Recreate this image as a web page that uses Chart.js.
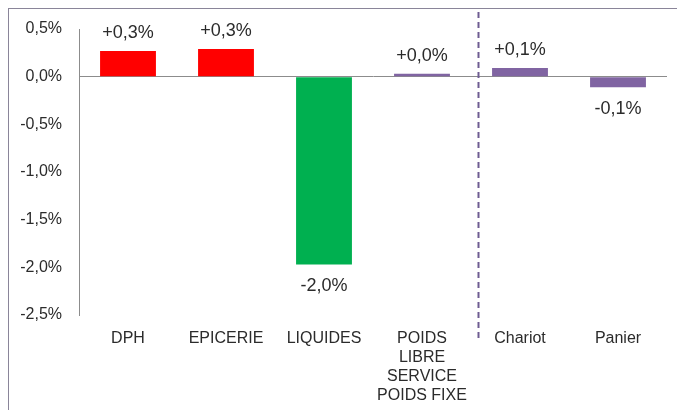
<!DOCTYPE html>
<html>
<head>
<meta charset="utf-8">
<script src="https://cdn.jsdelivr.net/npm/chart.js@4.4.1/dist/chart.umd.min.js"></script>
<style>
    body { margin: 0; background: #ffffff; overflow: hidden; }
    #frame { position: absolute; left: 8px; top: 8px; width: 700px; height: 420px; border: 1px solid #8a8599; }
    #wrap { position: absolute; left: 0; top: 0; width: 677px; height: 410px; }
</style>
</head>
<body>
<div id="frame"></div>
<div id="wrap"><canvas id="evolution_chart" width="677" height="410"></canvas></div>
<script>
const categories = ["DPH", "EPICERIE", "LIQUIDES", ["POIDS", "LIBRE", "SERVICE", "POIDS FIXE"], "Chariot", "Panier"];
const values = [0.27, 0.29, -1.97, 0.03, 0.09, -0.11];
const bar_colors = ["#ff0000", "#ff0000", "#00b050", "#8064a2", "#8064a2", "#8064a2"];
const y_ticks = [0.5, 0, -0.5, -1, -1.5, -2, -2.5];

const text_color = "#2b2b2b";
const font_family = "'Liberation Sans', Arial, sans-serif";

function format_percent(v, with_sign)
{
    const s = Math.abs(v).toFixed(1).replace(".", ",") + "%";
    if (v < 0) return "-" + s;
    return (with_sign ? "+" : "") + s;
}

// value labels above / below each bar
const value_labels =
{
    id: "value_labels",
    afterDatasetsDraw(chart)
    {
        const ctx = chart.ctx;
        const meta = chart.getDatasetMeta(0);
        ctx.save();
        ctx.font = "18px " + font_family;
        ctx.fillStyle = text_color;
        ctx.textAlign = "center";
        ctx.textBaseline = "middle";
        meta.data.forEach((bar, i) =>
        {
            const v = values[i];
            const y = v >= 0 ? bar.y - 18 : bar.y + 22;
            ctx.fillText(format_percent(v, true), bar.x, y);
        });
        ctx.restore();
    }
};

// dashed separator between the categories and the basket totals
const separator =
{
    id: "separator",
    afterDraw(chart)
    {
        const ctx = chart.ctx;
        const x = Math.round(chart.scales.x.getPixelForValue(3.57)) + 0.5;
        ctx.save();
        ctx.strokeStyle = "#6e5c92";
        ctx.lineWidth = 2;
        ctx.setLineDash([6, 4]);
        ctx.beginPath();
        ctx.moveTo(x, 12);
        ctx.lineTo(x, chart.chartArea.bottom + 26);
        ctx.stroke();
        ctx.restore();
    }
};

const evolution_chart = new Chart("evolution_chart",
{
    type: "bar",
    data:
    {
        labels: categories,
        datasets:
        [
            {
                data: values,
                backgroundColor: bar_colors,
                barPercentage: 0.57,
                categoryPercentage: 1.0
            }
        ]
    },
    options:
    {
        responsive: false,
        animation: false,
        layout:
        {
            padding: { left: 0, right: 10, top: 29, bottom: 0 }
        },
        plugins:
        {
            legend: { display: false },
            tooltip: { enabled: false }
        },
        scales:
        {
            x:
            {
                grid: { display: false },
                border: { display: false },
                ticks:
                {
                    color: text_color,
                    font: { family: font_family, size: 16, lineHeight: 1.19 },
                    padding: 6,
                    maxRotation: 0,
                    autoSkip: false
                },
                afterFit(scale) { scale.height = 95; }
            },
            y:
            {
                min: -2.5,
                max: 0.5,
                afterBuildTicks(scale) { scale.ticks = y_ticks.map(v => ({ value: v })); },
                grid:
                {
                    drawTicks: false,
                    color: (c) => c.tick && c.tick.value === 0 ? "#8c8c8c" : "rgba(0,0,0,0)",
                    lineWidth: 1
                },
                border: { display: true, color: "#8c8c8c" },
                ticks:
                {
                    color: text_color,
                    font: { family: font_family, size: 16 },
                    padding: 17,
                    callback: (v) => format_percent(v, false)
                },
                afterFit(scale) { scale.width = 79; }
            }
        }
    },
    plugins: [value_labels, separator]
});
</script>
</body>
</html>
